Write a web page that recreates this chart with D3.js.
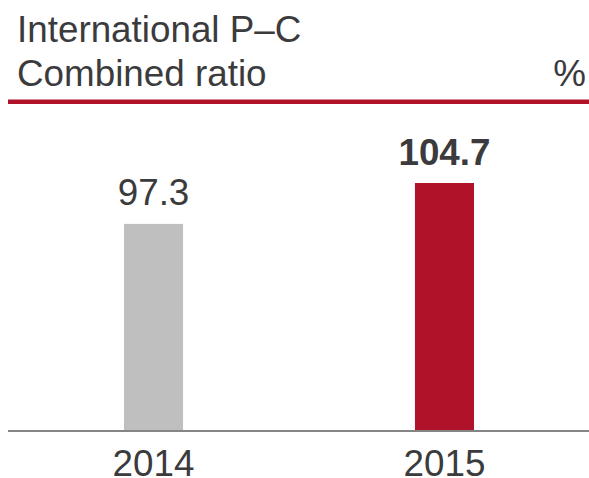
<!DOCTYPE html>
<html>
<head>
<meta charset="utf-8">
<script src="https://cdn.jsdelivr.net/npm/d3@7"></script>
<style>
  html, body { margin: 0; padding: 0; background: #fff; }
  svg { display: block; }
  text { font-family: "Liberation Sans", Arial, Helvetica, sans-serif; }
</style>
</head>
<body>
<svg id="chart" width="589" height="478"></svg>
<script>
const categories = ["2014", "2015"];
const values = [97.3, 104.7];
const valueLabels = ["97.3", "104.7"];
const titleLines = ["International P\u2013C", "Combined ratio"];
const unitLabel = "%";

const barColors = ["#bfbfbf", "#b01329"];
const textColor = "#3b3b3d";

const svg = d3.select("#chart");
const W = 589, H = 478;

const x = d3.scaleBand()
  .domain(categories)
  .range([7.6, 590.4])
  .paddingInner(0.797)
  .paddingOuter(0.4);

const y = d3.scaleLinear()
  .domain([60, 104.7])
  .range([430, 183]);

// Title
svg.selectAll("text.title")
  .data(titleLines)
  .join("text")
  .attr("class", "title")
  .attr("x", 17)
  .attr("y", (d, i) => 41.5 + i * 44.5)
  .attr("font-size", 36.8)
  .attr("fill", textColor)
  .text(d => d);

svg.append("text")
  .attr("x", 586)
  .attr("y", 86)
  .attr("text-anchor", "end")
  .attr("font-size", 36.8)
  .attr("fill", textColor)
  .text(unitLabel);

// Red rule
svg.append("rect")
  .attr("x", 8).attr("y", 99.5)
  .attr("width", W - 8).attr("height", 4.5)
  .attr("fill", "#b01329");

// Bars
svg.selectAll("rect.bar")
  .data(values)
  .join("rect")
  .attr("class", "bar")
  .attr("x", (d, i) => x(categories[i]))
  .attr("width", x.bandwidth())
  .attr("y", d => y(d))
  .attr("height", d => y.range()[0] - y(d))
  .attr("fill", (d, i) => barColors[i]);

// Baseline
svg.append("rect")
  .attr("x", 8).attr("y", 430)
  .attr("width", W - 8).attr("height", 2)
  .attr("fill", "#858585");

// Value labels
svg.selectAll("text.val")
  .data(values)
  .join("text")
  .attr("class", "val")
  .attr("x", (d, i) => x(categories[i]) + x.bandwidth() / 2)
  .attr("y", d => y(d) - 18.5)
  .attr("text-anchor", "middle")
  .attr("font-size", 36.8)
  .attr("font-weight", (d, i) => i === values.length - 1 ? "bold" : "normal")
  .attr("fill", textColor)
  .text((d, i) => valueLabels[i]);

// Category labels
svg.selectAll("text.cat")
  .data(categories)
  .join("text")
  .attr("class", "cat")
  .attr("x", d => x(d) + x.bandwidth() / 2)
  .attr("y", 476)
  .attr("text-anchor", "middle")
  .attr("font-size", 36.8)
  .attr("fill", textColor)
  .text(d => d);
</script>
</body>
</html>
